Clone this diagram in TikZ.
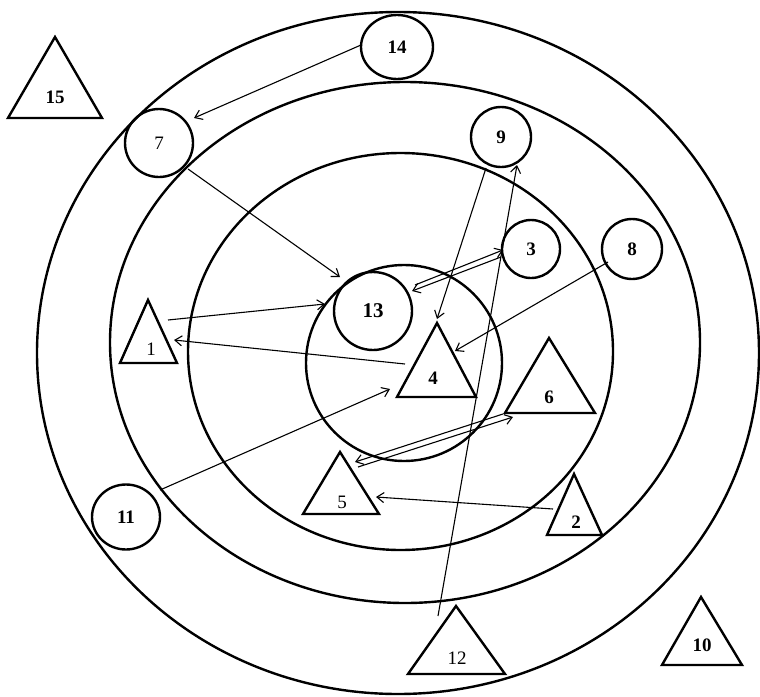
\documentclass[tikz,border=0pt]{standalone}
\usepackage{fontspec}
\setmainfont{Liberation Serif}
\usetikzlibrary{arrows.meta,calc,shapes.geometric}
\begin{document}
\begin{tikzpicture}[x=1pt,y=-1pt,
  ring/.style={line width=2.4pt},
  circ/.style={circle,draw,line width=2.4pt,inner sep=0pt,font=\fontsize{19}{19}\selectfont},
  ell/.style={ellipse,draw,line width=2.4pt,inner sep=0pt,font=\fontsize{19}{19}\selectfont},
  tri/.style={line width=2.4pt,line join=miter},
  lab/.style={inner sep=0pt,font=\fontsize{19}{19}\selectfont},
  arr/.style={line width=1.1pt,-{Straight Barb[length=7pt,width=10pt]}}]
\useasboundingbox (0,0) rectangle (760,696);
% concentric rings
\draw[ring] (398,353) ellipse [x radius=361pt, y radius=341pt];
\draw[ring] (405,342.5) ellipse [x radius=295pt, y radius=260.5pt];
\draw[ring] (400.5,351.5) ellipse [x radius=212.5pt, y radius=198.5pt];
\draw[ring] (404,363) circle [radius=98pt];
% circles
\node[circ,minimum size=68pt] (n7) at (159,143) {7};
\node[ell,minimum width=72pt,minimum height=64pt] (n14) at (397,47) {\textbf{14}};
\node[circ,minimum size=60pt] (n9) at (501,137) {\textbf{9}};
\node[circ,minimum size=58pt] (n3) at (531,249) {\textbf{3}};
\node[circ,minimum size=60pt] (n8) at (632,249) {\textbf{8}};
\node[circ,minimum size=78pt,font=\fontsize{21}{21}\selectfont] (n13) at (373,311) {\textbf{13}};
\node[ell,minimum width=68pt,minimum height=65pt] (n11) at (126,517) {\textbf{11}};
% triangles
\draw[tri] (55,37) -- (8,118) -- (102,118) -- cycle;
\node[lab] (n15) at (55,97) {\textbf{15}};
\draw[tri] (148,300) -- (120,363) -- (177,363) -- cycle;
\node[lab] (n1) at (151,349) {1};
\draw[tri] (437,323) -- (397,397) -- (476,397) -- cycle;
\node[lab] (n4) at (433,378) {\textbf{4}};
\draw[tri] (549,338) -- (505,413) -- (595,413) -- cycle;
\node[lab] (n6) at (549,397) {\textbf{6}};
\draw[tri] (340,452) -- (303,514) -- (379,514) -- cycle;
\node[lab] (n5) at (342,502) {5};
\draw[tri] (574,474) -- (547,535) -- (602,535) -- cycle;
\node[lab] (n2) at (576,522) {\textbf{2}};
\draw[tri] (456,606) -- (408,674) -- (505,674) -- cycle;
\node[lab] (n12) at (457,658) {12};
\draw[tri] (701,597) -- (662,665) -- (742,665) -- cycle;
\node[lab] (n10) at (702,645) {\textbf{10}};
% connectors
\draw[arr] ($(n14)+(-36,-2)$) -- ($(n7)+(35,-25)$);
\draw[arr] ($(n7)+(29,26)$) -- ($(n13)+(-33,-34)$);
\draw[arr] ($(n1)+(17,-29)$) -- ($(n13)+(-48,-7)$);
\draw[arr] ($(n4)+(-28,-14)$) -- ($(n1)+(23,-9)$);
\draw[arr] ($(n9)+(-15,31)$) -- ($(n4)+(4,-59)$);
\draw[arr] ($(n12)+(-19,-42)$) -- ($(n9)+(16,28)$);
\draw[arr] ($(n8)+(-24,13)$) -- ($(n4)+(22,-27)$);
\draw[arr] ($(n11)+(34,-27)$) -- ($(n4)+(-43,11)$);
\draw[arr] ($(n2)+(-23,-13)$) -- ($(n5)+(34,-5)$);
\draw[arr] ($(n13)+(42,-26)$) -- ($(n3)+(-28,1)$);
\draw[arr] ($(n3)+(-30,8)$) -- ($(n13)+(39,-20)$);
\draw[arr] ($(n6)+(-46,17)$) -- ($(n5)+(13,-40)$);
\draw[arr] ($(n5)+(16,-35)$) -- ($(n6)+(-36,20)$);
\end{tikzpicture}
\end{document}
